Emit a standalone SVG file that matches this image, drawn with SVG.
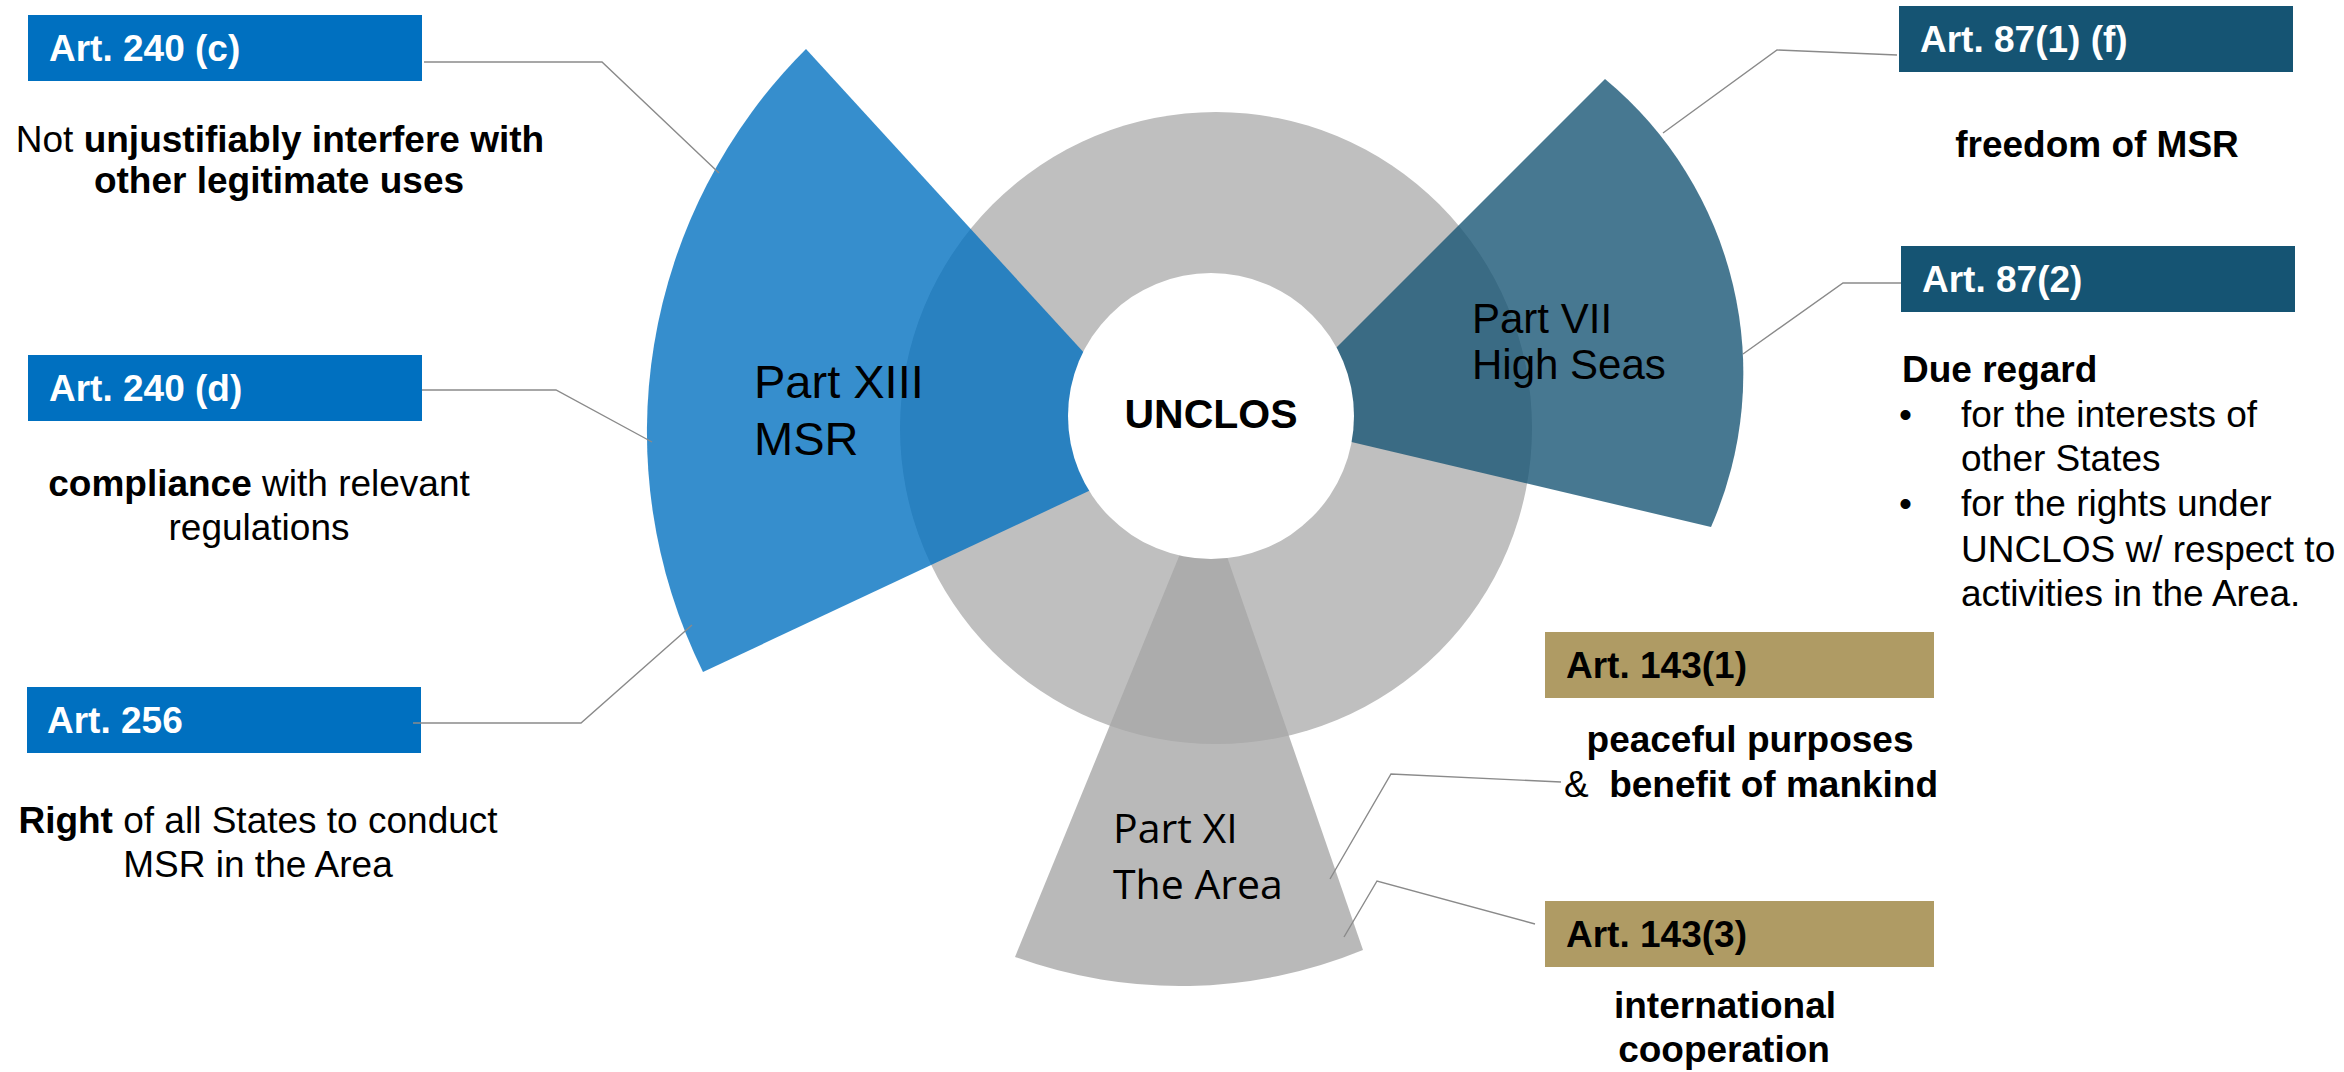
<svg xmlns="http://www.w3.org/2000/svg" width="2344" height="1072" viewBox="0 0 2344 1072">
<style>
text { font-family: "Liberation Sans", Arial, sans-serif; }
.lbl { font-size: 37px; font-weight: bold; }
.w { fill: #ffffff; }
.k { fill: #000000; }
.body { font-size: 37px; fill: #000000; }
.b { font-weight: bold; }
.mid { text-anchor: middle; }
.conn { fill: none; stroke: #8a8a8a; stroke-width: 1.4; }
.blue { fill: #0070C0; }
.teal { fill: #155473; }
.gold { fill: #AF9B64; }
.sec { opacity: 0.79; }
.part { font-size: 42px; fill: #000000; }
</style>
<rect width="2344" height="1072" fill="#ffffff"/>

<g id="ring">
  <circle cx="1216" cy="428" r="316" fill="#BFBFBF"/>
</g>

<g id="part-xiii">
  <path class="sec" d="M 806 49 L 1174 451 L 703 672 A 541 541 0 0 1 806 49 Z" fill="#0070C0"/>
  <text class="part" style="font-size:47px" x="754" y="398">Part XIII</text>
  <text class="part" style="font-size:47px" x="754" y="455">MSR</text>
</g>

<g id="part-vii">
  <path class="sec" d="M 1605 79 L 1263 421 L 1711 527 A 382 382 0 0 0 1605 79 Z" fill="#155473"/>
  <text class="part" x="1472" y="333">Part VII</text>
  <text class="part" x="1472" y="379">High Seas</text>
</g>

<g id="part-xi">
  <path class="sec" d="M 1205 493 L 1015 957 A 483 483 0 0 0 1363 950 Z" fill="#A6A6A6"/>
  <text style="font-family:'Open Sans','Noto Sans',sans-serif;font-size:41px" fill="#000" x="1113" y="843">Part XI</text>
  <text style="font-family:'Open Sans','Noto Sans',sans-serif;font-size:41px" fill="#000" x="1113" y="899">The Area</text>
</g>

<g id="unclos">
  <circle cx="1211" cy="416" r="143" fill="#ffffff"/>
  <text class="mid b" style="font-size:41px" fill="#000" x="1211" y="428">UNCLOS</text>
</g>

<g id="art-240c">
  <rect class="blue" x="28" y="15" width="394" height="66"/>
  <text class="lbl w" x="49" y="61">Art. 240 (c)</text>
  <text class="body mid" x="280" y="152">Not <tspan class="b">unjustifiably interfere with</tspan></text>
  <text class="body mid b" x="279" y="193">other legitimate uses</text>
</g>

<g id="art-240d">
  <rect class="blue" x="28" y="355" width="394" height="66"/>
  <text class="lbl w" x="49" y="401">Art. 240 (d)</text>
  <text class="body mid" x="259" y="496"><tspan class="b">compliance</tspan> with relevant</text>
  <text class="body mid" x="259" y="540">regulations</text>
</g>

<g id="art-256">
  <rect class="blue" x="27" y="687" width="394" height="66"/>
  <text class="lbl w" x="47" y="733">Art. 256</text>
  <text class="body mid" x="258" y="833"><tspan class="b">Right</tspan> of all States to conduct</text>
  <text class="body mid" x="258" y="877">MSR in the Area</text>
</g>

<g id="art-87-1-f">
  <rect class="teal" x="1899" y="6" width="394" height="66"/>
  <text class="lbl w" x="1920" y="52">Art. 87(1) (f)</text>
  <text class="body mid b" x="2097" y="157">freedom of MSR</text>
</g>

<g id="art-87-2">
  <rect class="teal" x="1901" y="246" width="394" height="66"/>
  <text class="lbl w" x="1922" y="292">Art. 87(2)</text>
  <text class="body b" x="1902" y="382">Due regard</text>
  <text class="body" x="1899" y="427">•</text>
  <text class="body" x="1961" y="427">for the interests of</text>
  <text class="body" x="1961" y="471">other States</text>
  <text class="body" x="1899" y="516">•</text>
  <text class="body" x="1961" y="516">for the rights under</text>
  <text class="body" x="1961" y="562">UNCLOS w/ respect to</text>
  <text class="body" x="1961" y="606">activities in the Area.</text>
</g>

<g id="art-143-1">
  <rect class="gold" x="1545" y="632" width="389" height="66"/>
  <text class="lbl k" x="1566" y="678">Art. 143(1)</text>
  <text class="body mid b" x="1750" y="752">peaceful purposes</text>
  <text class="body mid" x="1751" y="797">&amp;&#160; <tspan class="b">benefit of mankind</tspan></text>
</g>

<g id="art-143-3">
  <rect class="gold" x="1545" y="901" width="389" height="66"/>
  <text class="lbl k" x="1566" y="947">Art. 143(3)</text>
  <text class="body mid b" x="1725" y="1018">international</text>
  <text class="body mid b" x="1724" y="1062">cooperation</text>
</g>

<g id="connectors">
  <polyline class="conn" points="424,62 602,62 719,173"/>
  <polyline class="conn" points="422,390 556,390 652,442"/>
  <polyline class="conn" points="413,723 581,723 692,625"/>
  <polyline class="conn" points="1663,133 1777,50 1897,55"/>
  <polyline class="conn" points="1743,354 1843,283 1901,283"/>
  <polyline class="conn" points="1330,879 1391,774 1561,782"/>
  <polyline class="conn" points="1344,937 1377,881 1535,924"/>
</g>
</svg>
